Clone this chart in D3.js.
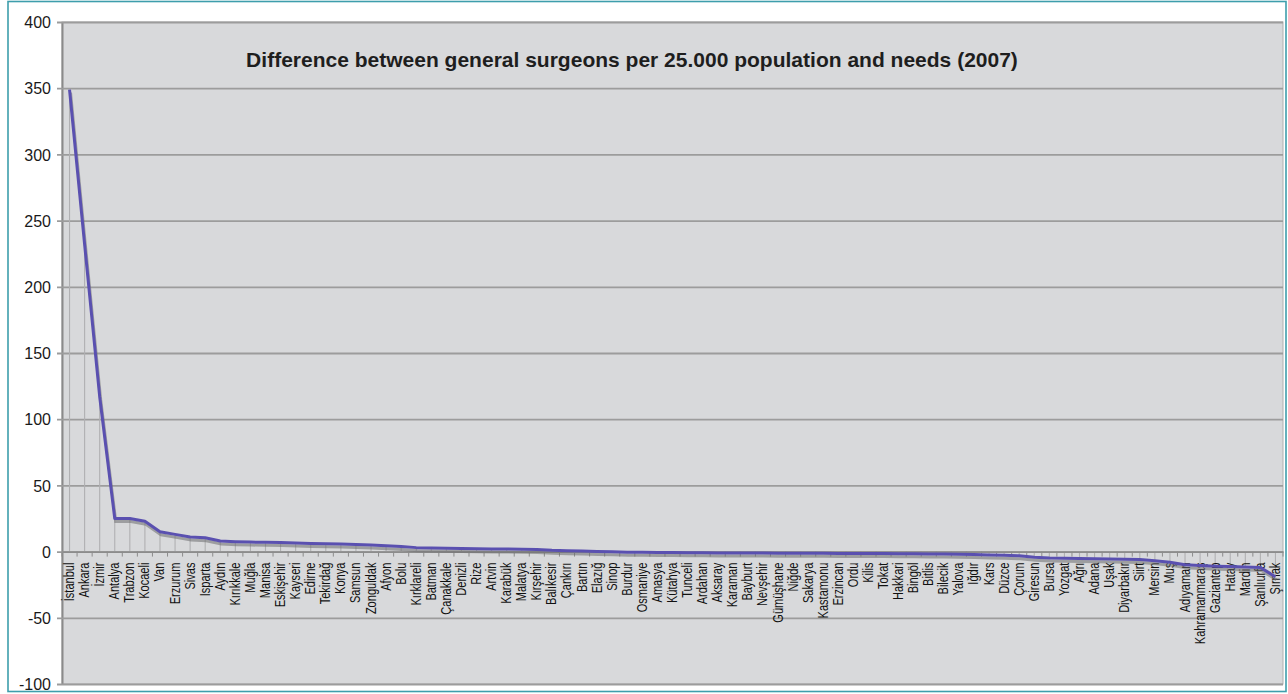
<!DOCTYPE html>
<html><head><meta charset="utf-8">
<script src="https://cdn.jsdelivr.net/npm/d3@7/dist/d3.min.js"></script>
<style>
html,body{margin:0;padding:0;background:#fff;}
svg{display:block;}
</style></head>
<body>
<svg id="c" width="1288" height="694"></svg>
<script>
const chartTitle = "Difference between general surgeons per 25.000 population and needs (2007)";
const provinces = ["İstanbul","Ankara","İzmir","Antalya","Trabzon","Kocaeli","Van","Erzurum","Sivas","Isparta",
"Aydın","Kırıkkale","Muğla","Manisa","Eskişehir","Kayseri","Edirne","Tekirdağ","Konya","Samsun",
"Zonguldak","Afyon","Bolu","Kırklareli","Batman","Çanakkale","Denizli","Rize","Artvin","Karabük",
"Malatya","Kırşehir","Balıkesir","Çankırı","Bartın","Elazığ","Sinop","Burdur","Osmaniye","Amasya",
"Kütahya","Tunceli","Ardahan","Aksaray","Karaman","Bayburt","Nevşehir","Gümüşhane","Niğde","Sakarya",
"Kastamonu","Erzincan","Ordu","Kilis","Tokat","Hakkari","Bingöl","Bitlis","Bilecik","Yalova",
"Iğdır","Kars","Düzce","Çorum","Giresun","Bursa","Yozgat","Ağrı","Adana","Uşak",
"Diyarbakır","Siirt","Mersin","Muş","Adıyaman","Kahramanmaraş","Gaziantep","Hatay","Mardin","Şanlıurfa","Şırnak"];
const differences = [349,232,117,25,25,23,15,13,11,10.5,
8,7.5,7.2,7,6.8,6.5,6.2,6,5.7,5.3,
5,4.5,3.8,3,2.7,2.5,2.3,2.1,2,1.9,
1.8,1.6,1,0.7,0.4,0.1,-0.2,-0.4,-0.5,-0.6,
-0.7,-0.8,-0.9,-1,-1,-1.1,-1.1,-1.2,-1.2,-1.3,
-1.3,-1.4,-1.4,-1.5,-1.5,-1.6,-1.7,-1.8,-1.9,-2,
-2.2,-2.5,-2.8,-3.2,-4.2,-4.8,-5,-5.2,-5.4,-5.6,
-5.8,-6,-7,-8,-10,-10.5,-11,-11.3,-11.6,-12,-19];
const yTicks = [-100,-50,0,50,100,150,200,250,300,350,400];

const svg = d3.select("#c");
const L = 62, R = 1283, T = 22, B = 684;
const FONT = "'Liberation Sans',Arial,sans-serif";

// outer frame
svg.append("rect").attr("x",8).attr("y",1.5).attr("width",1278).attr("height",690)
  .attr("fill","#fff").attr("stroke","#3e9eac").attr("stroke-width",1.6);

const x = d3.scaleBand().domain(provinces).range([L,R]).padding(0);
const y = d3.scaleLinear().domain([-100,400]).range([B,T]);
const cx = d => x(d) + x.bandwidth()/2;

// plot background
svg.append("rect").attr("x",L).attr("y",T).attr("width",R-L).attr("height",B-T)
  .attr("fill","#d8d9db").attr("stroke","#b0b0b0").attr("stroke-width",1);

// gridlines + y axis
const yAxis = d3.axisLeft(y).tickValues(yTicks).tickSize(-(R-L)).tickSizeOuter(0)
  .tickPadding(11).tickFormat(d=>String(d));
const gy = svg.append("g").attr("transform",`translate(${L},0)`).call(yAxis);
gy.select(".domain").attr("stroke","#8a8a8a").attr("stroke-width",2);
gy.selectAll(".tick line").attr("stroke","#9c9c9c").attr("stroke-width",1.8).attr("x1",-5);
gy.selectAll(".tick text").attr("font-family",FONT)
  .attr("font-size",16).attr("fill","#1a1a1a").attr("dy","0.36em");

// drop lines
svg.append("g").selectAll("line").data(provinces).join("line")
  .attr("x1",d=>cx(d)).attr("x2",d=>cx(d))
  .attr("y1",y(0)).attr("y2",(d,i)=>y(differences[i]))
  .attr("stroke","#b0b0b2").attr("stroke-width",1.1);

// x axis at zero
const xAxis = d3.axisBottom(x).tickSize(0).tickFormat("");
const gx = svg.append("g").attr("transform",`translate(0,${y(0)})`).call(xAxis);
gx.select(".domain").attr("stroke","#8c8c8c").attr("stroke-width",1.6);
const bounds = provinces.map(p=>x(p)).concat([R]);
svg.append("g").selectAll("line").data(bounds).join("line")
  .attr("x1",d=>d).attr("x2",d=>d).attr("y1",y(0)).attr("y2",y(0)+5)
  .attr("stroke","#8c8c8c").attr("stroke-width",1);

// category labels (narrow look: compress along text direction)
svg.append("g").selectAll("text").data(provinces).join("text")
  .attr("transform",d=>`translate(${cx(d)+4.5},${y(0)+11}) rotate(-90) scale(0.8,1)`)
  .attr("text-anchor","end")
  .attr("font-family",FONT)
  .attr("font-size",13.8).attr("fill","#111").text(d=>d);

// line with shadow
const line = d3.line().x((d,i)=>cx(provinces[i])).y(d=>y(d));
svg.append("path").datum(differences).attr("d",line).attr("fill","none")
  .attr("stroke","#6e6e70").attr("stroke-opacity",0.55).attr("stroke-width",3)
  .attr("transform","translate(1,3)");
svg.append("path").datum(differences).attr("d",line).attr("fill","none")
  .attr("stroke","#5a50b0").attr("stroke-width",3).attr("stroke-linejoin","round");

// title
const tg = svg.append("g").attr("transform","translate(632,67)");
const t = tg.append("text").attr("x",0).attr("y",0).attr("text-anchor","middle")
  .attr("font-family",FONT)
  .attr("font-weight","bold").attr("font-size",19.5).attr("fill","#1e1e1e").text(chartTitle);
const w = t.node().getComputedTextLength();
tg.attr("transform",`translate(632,67) scale(${772/w},1)`);
</script>
</body></html>
